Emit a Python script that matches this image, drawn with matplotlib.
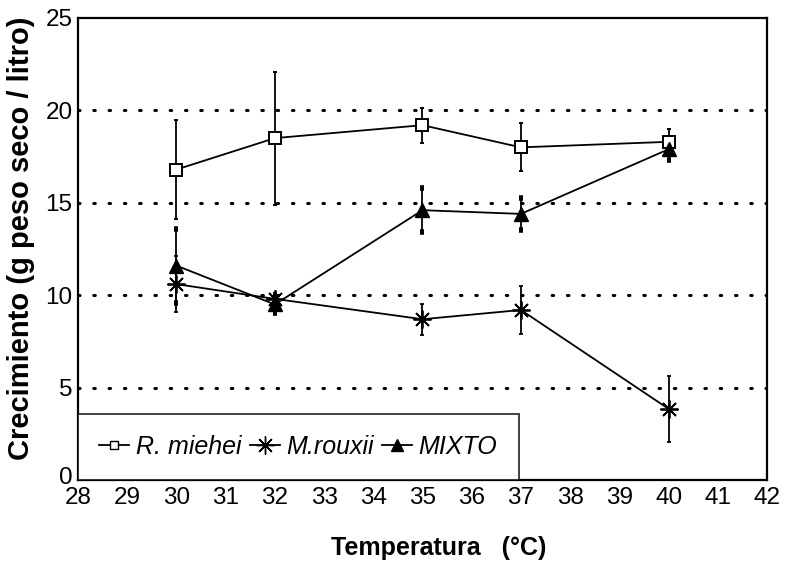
import matplotlib
matplotlib.use("Agg")
import matplotlib.pyplot as plt
import matplotlib.transforms as mtransforms
from matplotlib.lines import Line2D

temps = [30, 32, 35, 37, 40]
r_miehei = [16.8, 18.5, 19.2, 18.0, 18.3]
r_miehei_err = [2.7, 3.6, 0.95, 1.3, 0.7]
m_rouxii = [10.6, 9.8, 8.7, 9.2, 3.85]
m_rouxii_err = [1.5, 0.3, 0.85, 1.3, 1.8]
mixto = [11.6, 9.5, 14.6, 14.4, 17.9]
mixto_err = [2.0, 0.45, 1.2, 0.85, 0.6]
series_names = ["R. miehei", "M.rouxii", "MIXTO"]
x_ticks = list(range(28, 43))
y_ticks = [0, 5, 10, 15, 20, 25]

plt.rcParams['font.family'] = ['Liberation Sans', 'DejaVu Sans']

fig = plt.figure(figsize=(7.85, 5.63), dpi=100)
ax = fig.add_axes([78/785, 1-480/563, (767-78)/785, (480-18)/563])

for y in [5, 10, 15, 20]:
    ax.axhline(y, color='black', linestyle=(0, (0.5, 4.5)), linewidth=2.2,
               dash_capstyle='round', zorder=1)

common = dict(color='black', linewidth=1.3, elinewidth=1.3, capsize=1.6,
              capthick=4, zorder=3)
ax.errorbar(temps, r_miehei, yerr=r_miehei_err, marker='s', markersize=8,
            markerfacecolor='white', markeredgecolor='black', markeredgewidth=1.4, **common)
ax.errorbar(temps, m_rouxii, yerr=m_rouxii_err, marker=(8, 2, 0), markersize=13,
            markeredgewidth=1.3, **common)
ax.errorbar(temps, mixto, yerr=mixto_err, marker='^', markersize=10,
            markerfacecolor='black', markeredgecolor='black', **common)

ax.set_xlim(28, 42)
ax.set_ylim(0, 25)
ax.set_xticks(x_ticks)
ax.set_yticks(y_ticks)
ax.tick_params(axis='x', length=0, labelsize=17.5, pad=5)
ax.tick_params(axis='y', length=0, labelsize=17.5, pad=4)
for s in ax.spines.values():
    s.set_linewidth(1.6)

# nudge the "0" y tick label up slightly, as in the reference
fig.canvas.draw()
ylabels = ax.get_yticklabels()
ylabels[0].set_transform(ylabels[0].get_transform() +
                         mtransforms.ScaledTranslation(0, 5/100, fig.dpi_scale_trans))

ax.set_xlabel("Temperatura   (\u00b0C)", fontsize=18, fontweight='bold')
ax.xaxis.set_label_coords((439 - 78) / 689, -(548 - 480) / 462)
ax.xaxis.label.set_va('center')
ax.set_ylabel("Crecimiento (g peso seco / litro)", fontsize=21, fontweight='bold')
ax.yaxis.set_label_coords(-(78 - 21) / 689, (480 - 238) / 462)
ax.yaxis.label.set_va('center')

handles = [
    Line2D([], [], color='black', linewidth=1.3, marker='s', markersize=6,
           markerfacecolor='white', markeredgecolor='black'),
    Line2D([], [], color='black', linewidth=1.3, marker=(8, 2, 0), markersize=13),
    Line2D([], [], color='black', linewidth=1.3, marker='^', markersize=9,
           markerfacecolor='black'),
]
leg = ax.legend(handles, series_names, loc='lower left', bbox_to_anchor=(0, 0),
                ncol=3, frameon=True, fancybox=False, handlelength=1.2,
                handletextpad=0.25, columnspacing=0.35, borderpad=0.85,
                prop={'size': 18, 'style': 'italic'}, borderaxespad=0)
leg.get_frame().set_edgecolor('black')
leg.get_frame().set_linewidth(1.3)

fig.savefig("out.png", dpi=100)
